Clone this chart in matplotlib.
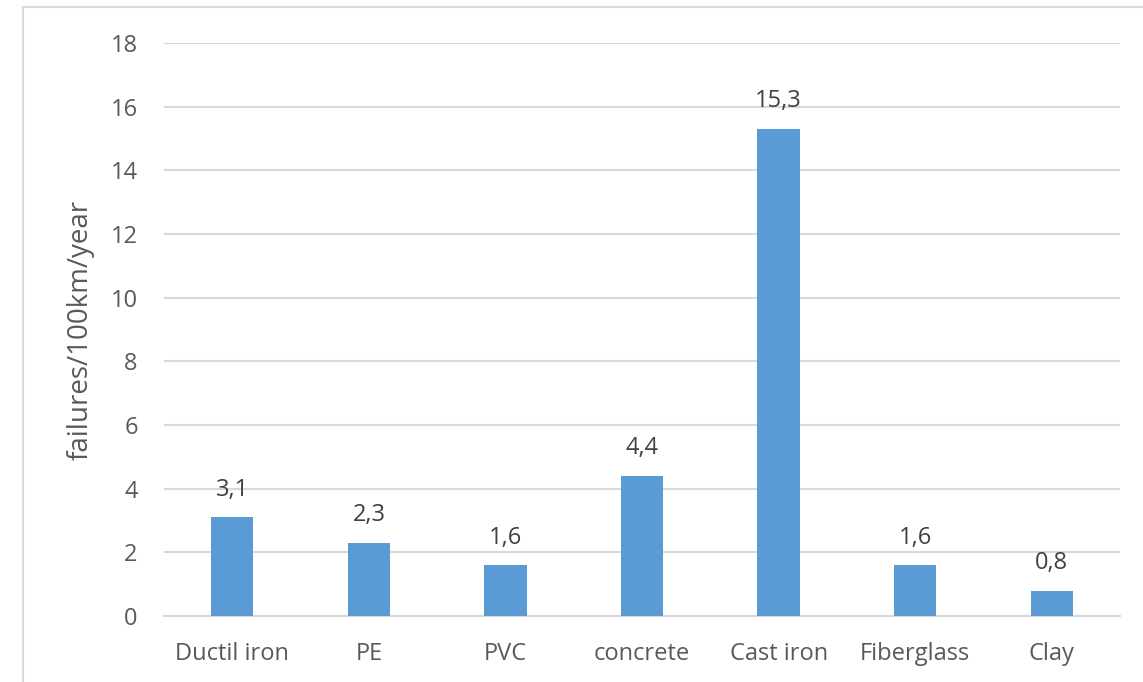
import matplotlib.pyplot as plt
from matplotlib.patches import Rectangle

materials = ['Ductil iron', 'PE', 'PVC', 'concrete', 'Cast iron', 'Fiberglass', 'Clay']
failures = [3.1, 2.3, 1.6, 4.4, 15.3, 1.6, 0.8]
yticks = [0, 2, 4, 6, 8, 10, 12, 14, 16, 18]

plt.rcParams['font.family'] = ['Open Sans', 'DejaVu Sans']
text_color = '#595959'
grid_color = '#d9d9d9'

fig = plt.figure(figsize=(11.43, 6.82), dpi=100)
ax = fig.add_axes((0.1435, 0.0968, 0.8365, 0.8402))

# chart border (partly cut off at right and bottom)
fig.patches.append(Rectangle((23 / 1143, -0.05), 1.1, 0.05 + (682 - 7) / 682,
                             transform=fig.transFigure, fill=False,
                             edgecolor=grid_color, linewidth=1.5))

x = range(len(materials))
bars = ax.bar(x, failures, width=0.31, color='#5b9bd5', zorder=3)

for b, v in zip(bars, failures):
    ax.annotate(f'{v:.1f}'.replace('.', ','),
                (b.get_x() + b.get_width() / 2, v),
                xytext=(0, 15.5), textcoords='offset points',
                ha='center', va='baseline', fontsize=17, color='#404040')

ax.set_xlim(-0.5, len(materials) - 0.5)
ax.set_ylim(0, 18)
ax.set_yticks(yticks)
ax.set_xticks(list(x))
ax.set_xticklabels(materials)
ax.tick_params(axis='both', length=0, labelsize=17, labelcolor=text_color)
ax.tick_params(axis='y', pad=19)
ax.tick_params(axis='x', pad=19)
ax.yaxis.grid(True, color=grid_color, linewidth=1.5, zorder=0)
for s in ['top', 'right', 'left']:
    ax.spines[s].set_visible(False)
ax.spines['bottom'].set_color(grid_color)
ax.spines['bottom'].set_linewidth(1.5)

fig.text(81 / 1143, 1 - 330 / 682, 'failures/100km/year', rotation=90,
         ha='center', va='center', fontsize=20, color=text_color)

fig.savefig('out.png', dpi=100)
